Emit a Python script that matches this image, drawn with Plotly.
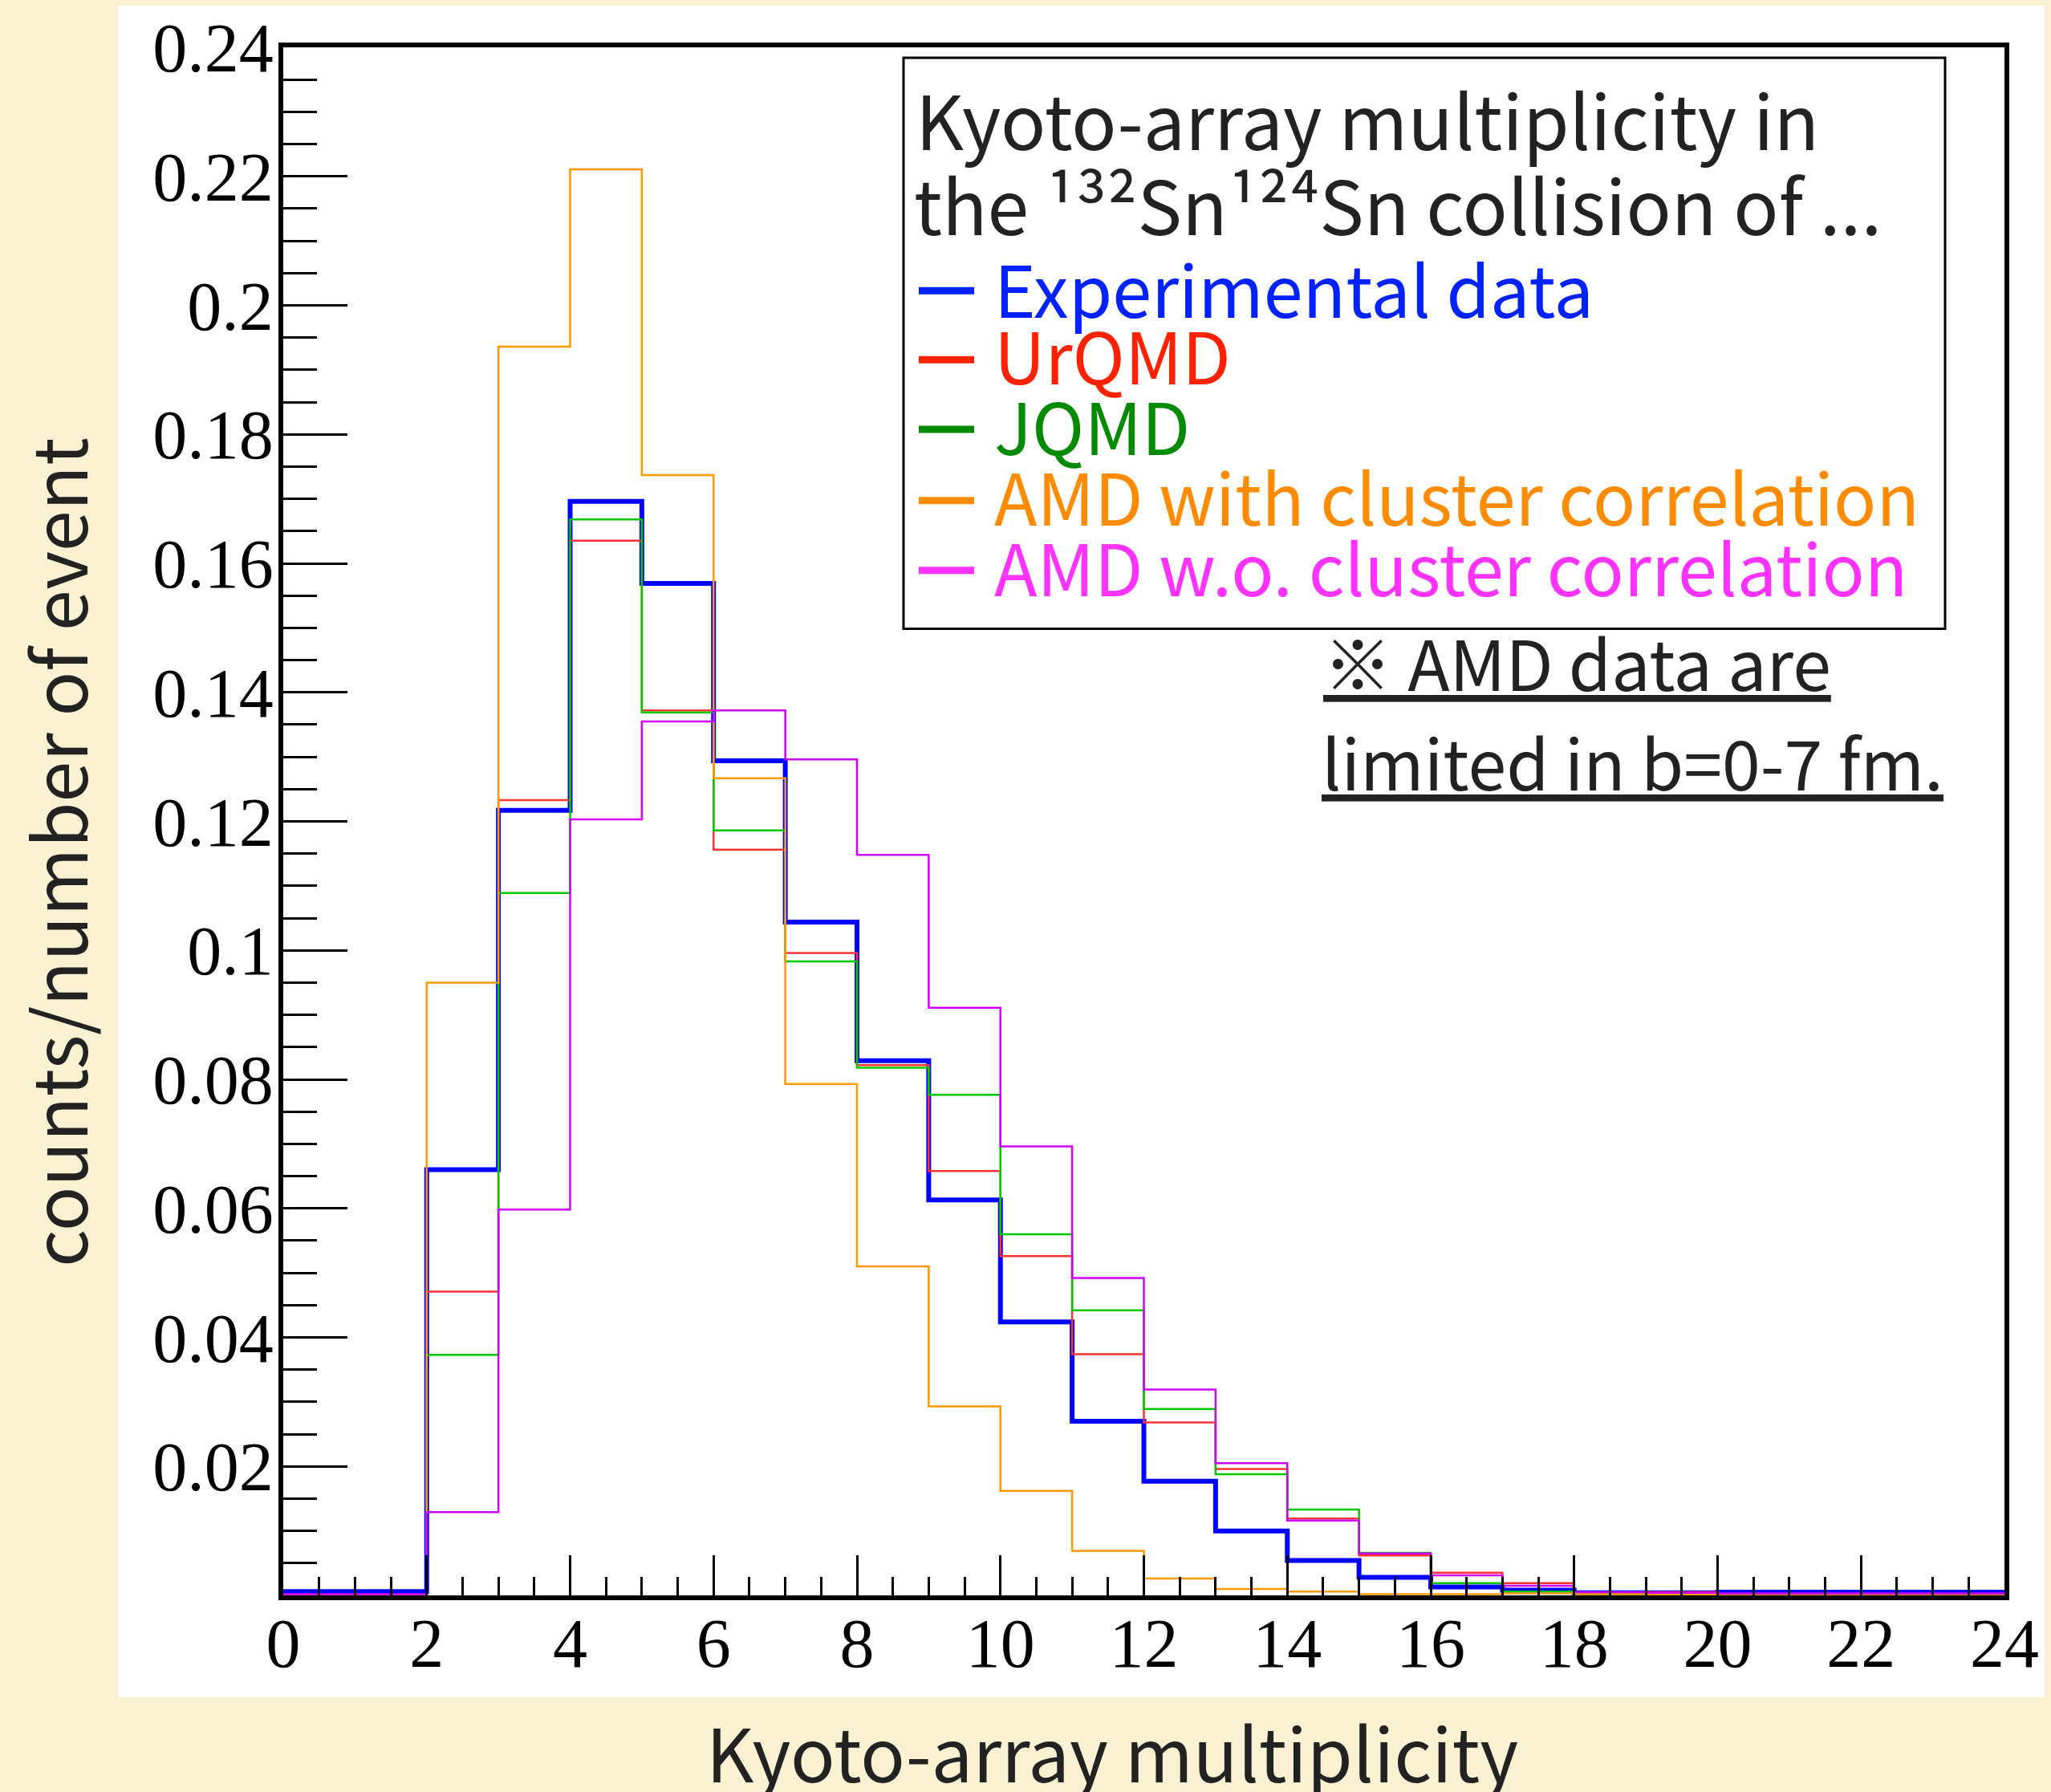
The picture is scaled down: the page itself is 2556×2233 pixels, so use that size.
import plotly.graph_objects as go

# ---------------- data (bin contents, bins of width 1 from 0 to 24) ----------------
bin_edges = list(range(0, 25))
experimental = [0.0006, 0.0006, 0.0660, 0.1217, 0.1696, 0.1569, 0.1294, 0.1044, 0.0829, 0.0613,
                0.0424, 0.0270, 0.0177, 0.0100, 0.0054, 0.0028, 0.0013, 0.0008, 0.0004, 0.0004,
                0.0005, 0.0005, 0.0005, 0.0005]
urqmd = [0.0, 0.0, 0.0471, 0.1233, 0.1635, 0.1372, 0.1156, 0.0996, 0.0822, 0.0658,
         0.0526, 0.0374, 0.0268, 0.0196, 0.0119, 0.0062, 0.0035, 0.0019, 0.0004, 0.0005,
         0.0, 0.0, 0.0, 0.0]
jqmd = [0.0, 0.0, 0.0373, 0.1089, 0.1668, 0.1369, 0.1186, 0.0983, 0.0818, 0.0776,
        0.0560, 0.0442, 0.0289, 0.0188, 0.0133, 0.0066, 0.0019, 0.0006, 0.0002, 0.0,
        0.0, 0.0, 0.0, 0.0]
amd_with_cc = [0.0, 0.0, 0.0950, 0.1936, 0.2211, 0.1737, 0.1267, 0.0793, 0.0510, 0.0293,
               0.0162, 0.0069, 0.0026, 0.0010, 0.0006, 0.0002, 0.0002, 0.0003, 0.0002, 0.0001,
               0.0, 0.0, 0.0, 0.0]
amd_wo_cc = [0.0002, 0.0002, 0.0129, 0.0598, 0.1203, 0.1355, 0.1372, 0.1296, 0.1148, 0.0911,
             0.0696, 0.0492, 0.0319, 0.0205, 0.0116, 0.0065, 0.0031, 0.0015, 0.0005, 0.0004,
             0.0003, 0.0003, 0.0003, 0.0003]

series_names = ["Experimental data", "UrQMD", "JQMD",
                "AMD with cluster correlation", "AMD w.o. cluster correlation"]
series_values = [experimental, urqmd, jqmd, amd_with_cc, amd_wo_cc]
line_colors = ["#0000FF", "#FF3333", "#00C800", "#FF9900", "#D000FF"]
line_widths = [6, 2.5, 2.5, 2.5, 2.5]
legend_colors = ["#0022FF", "#FF2200", "#008A00", "#FF8C00", "#FF33FF"]

x_ticks = list(range(0, 25, 2))
y_tickvals = [0.02, 0.04, 0.06, 0.08, 0.10, 0.12, 0.14, 0.16, 0.18, 0.20, 0.22, 0.24]
y_ticktext = ["0.02", "0.04", "0.06", "0.08", "0.1", "0.12", "0.14", "0.16", "0.18", "0.2", "0.22", "0.24"]

# ---------------- geometry (pixels) ----------------
W, H = 2556, 2233
L, R, T, B = 353, 2498, 55, 1988


def fx(p):
    return (p - L) / (R - L)


def fy(p):
    return (B - p) / (B - T)


SANS = "Noto Sans CJK JP"
SERIF = "Liberation Serif"
BG = "#FAF0D2"

fig = go.Figure()
for name, vals, col, lw in zip(series_names, series_values, line_colors, line_widths):
    fig.add_trace(go.Scatter(
        x=bin_edges, y=vals + [vals[-1]], mode="lines", name=name,
        line=dict(shape="hv", color=col, width=lw), showlegend=False,
    ))

shapes = [
    # white panel behind chart
    dict(type="rect", xref="paper", yref="paper", x0=fx(147), x1=fx(2548), y0=fy(3), y1=fy(2115),
         fillcolor="white", line=dict(width=0), layer="below"),
    # legend box
    dict(type="rect", xref="paper", yref="paper", x0=fx(1126), x1=fx(2424), y0=fy(68), y1=fy(781),
         fillcolor="white", line=dict(color="black", width=3), layer="above"),
]

annotations = []
desc = 0.288


def add_text(text, x, baseline, size, color="#222222", anchor="left"):
    annotations.append(dict(
        text=text, xref="paper", yref="paper", x=fx(x), y=fy(baseline + desc * size + 1),
        xanchor=anchor, yanchor="bottom", showarrow=False,
        font=dict(family=SANS, size=size, color=color),
    ))


TS = 93   # legend header size
ES = 88   # legend entry size
add_text("Kyoto-array multiplicity in", 1139, 185, TS)
add_text("the ¹³²Sn¹²⁴Sn collision of ...", 1137, 291, TS)
entry_baselines = [393, 477, 565, 653, 741]
entry_dash_y = [359, 445, 532, 621, 708]
for name, col, bl, dy in zip(series_names, legend_colors, entry_baselines, entry_dash_y):
    add_text(name, 1237, bl, ES, color=col)
    shapes.append(dict(type="line", xref="paper", yref="paper", x0=fx(1145), x1=fx(1214),
                       y0=fy(dy), y1=fy(dy), line=dict(color=col, width=9), layer="above"))

add_text("<u>※ AMD data are</u>", 1647, 860, 86)
add_text("<u>limited in b=0-7 fm.</u>", 1645, 984, 86)

# axis titles
annotations.append(dict(
    text="Kyoto-array multiplicity", xref="paper", yref="paper", x=fx(1386), y=fy(2222 + desc * 92 + 1),
    xanchor="center", yanchor="bottom", showarrow=False,
    font=dict(family=SANS, size=92, color="#222222"),
))
annotations.append(dict(
    text="counts/number of event", xref="paper", yref="paper", x=fx(69), y=fy(1060),
    xanchor="center", yanchor="middle", textangle=-90, showarrow=False,
    font=dict(family=SANS, size=92, color="#222222"),
))

fig.update_layout(
    width=W, height=H,
    margin=dict(l=L, r=W - R, t=T, b=H - B, pad=0),
    paper_bgcolor=BG, plot_bgcolor="white",
    shapes=shapes, annotations=annotations,
    showlegend=False,
)
fig.update_xaxes(
    range=[0, 24], tickmode="array", tickvals=x_ticks, ticktext=[str(v) for v in x_ticks],
    ticks="inside", ticklen=50, tickwidth=3, tickcolor="black", ticklabelstandoff=-20,
    minor=dict(dtick=0.5, tick0=0, ticks="inside", ticklen=23, tickwidth=3, tickcolor="black"),
    showline=True, linewidth=6, linecolor="black", mirror=True,
    showgrid=False, zeroline=False,
    tickfont=dict(family=SERIF, size=86, color="black"),
)
fig.update_yaxes(
    range=[0, 0.24], tickmode="array", tickvals=y_tickvals, ticktext=y_ticktext,
    ticks="inside", ticklen=80, tickwidth=3, tickcolor="black", ticklabelstandoff=-11,
    minor=dict(dtick=0.005, tick0=0, ticks="inside", ticklen=42, tickwidth=3, tickcolor="black"),
    showline=True, linewidth=6, linecolor="black", mirror=True,
    showgrid=False, zeroline=False,
    tickfont=dict(family=SERIF, size=86, color="black"),
)

fig.write_html("out.html")
